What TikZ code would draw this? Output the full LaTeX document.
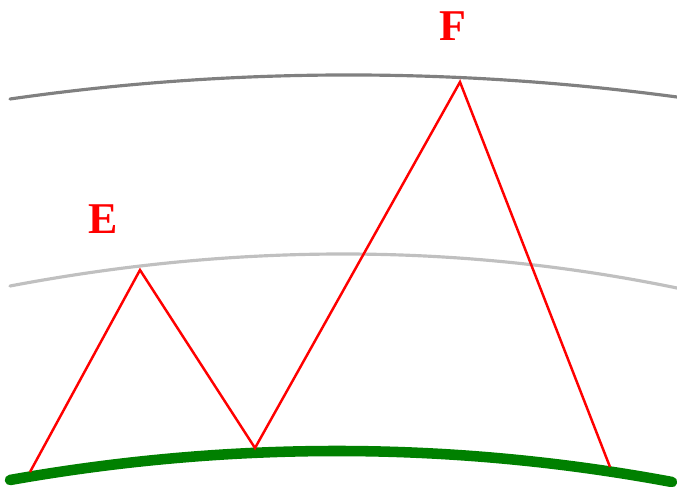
\documentclass[tikz,border=0pt]{standalone}
\usepackage{fontspec}
\setmainfont{Liberation Serif}
\usepackage{tikz}
\definecolor{ShellDark}{RGB}{128,128,128}
\definecolor{ShellLight}{RGB}{192,192,192}
\definecolor{Ground}{RGB}{0,128,0}
\def\Wth{1.4pt}
\tikzset{
    shell/.style={draw=#1, line width=1.8pt, line cap=round},
    ground/.style={draw=Ground, line width=6pt, line cap=round},
    ray/.style={draw=red, line width=\Wth, line join=miter},
    peak label/.style={text=red, font=\fontsize{25}{28}\selectfont\bfseries}
}
\begin{document}
\begin{tikzpicture}[x=0.02cm, y=-0.02cm]
    \useasboundingbox (0,0) rectangle (677,487);
    % layers
    \draw[shell=ShellDark] (10,99) .. controls (231,67.3) and (455,67.3) .. (677,97);
    \draw[shell=ShellLight] (10,286) .. controls (237,243) and (459,243) .. (677,288);
    \draw[ground] (10,480) .. controls (230,441) and (452,441) .. (672,482);
    % ray path
    \coordinate (P1) at (30,472);
    \coordinate (P2) at (140,270);
    \coordinate (P3) at (255,448);
    \coordinate (P4) at (460,82);
    \coordinate (P5) at (610,467);
    \draw[ray] (P1) -- (P2) -- (P3) -- (P4) -- (P5);
    \node[peak label] (E) at (103,219) {E};
    \node[peak label] (F) at (453,26) {F};
\end{tikzpicture}
\end{document}
